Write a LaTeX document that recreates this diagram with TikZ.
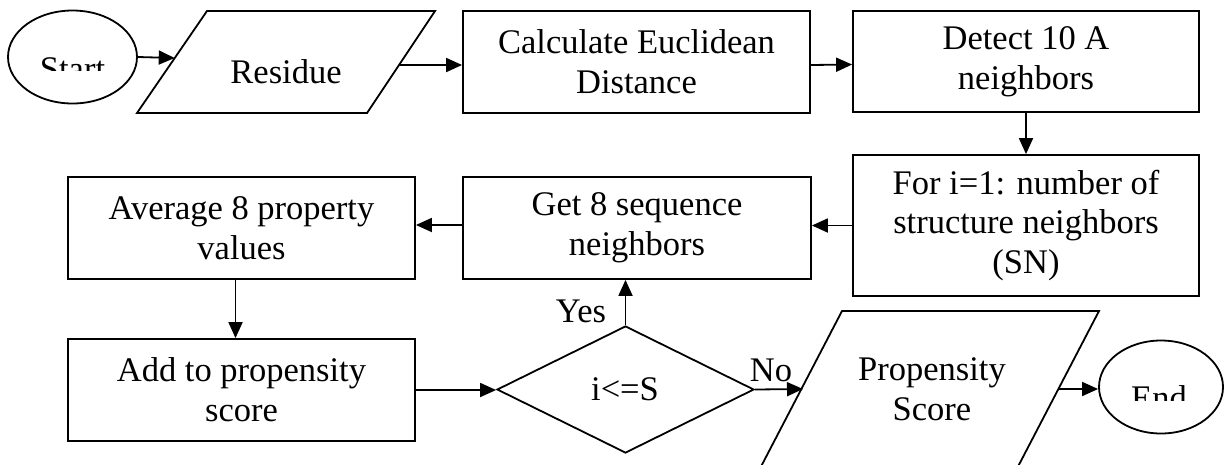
\documentclass[tikz,border=0pt]{standalone}
\usepackage{fontspec}
\setmainfont{Liberation Serif}
\usetikzlibrary{shapes.geometric,arrows.meta}
\begin{document}
\begin{tikzpicture}[x=1pt,y=-1pt,
  every node/.style={font=\fontsize{34.5}{39.7}\selectfont, inner sep=0pt},
  outline/.style={draw, line width=1.8pt},
  stepbox/.style={outline, rectangle, align=center},
  terminal/.style={outline, ellipse},
  decision/.style={outline, diamond},
  io/.style={outline, line join=miter},
  arr/.style={line width=1.8pt, -{Triangle[length=16pt,width=14pt]}}]

\path[use as bounding box, clip] (0,0) rectangle (1228,464);

% terminals
\node[terminal, minimum width=129pt, minimum height=93pt] (start) at (72.5,57) {};
\begin{scope}
  \clip (0,0) rectangle (1228,70.5);
  \node[anchor=base] (starttext) at (72.5,80) {Start};
\end{scope}
\node[terminal, minimum width=124pt, minimum height=93pt] (end) at (1161,387) {};
\begin{scope}
  \clip (1099,0) rectangle (1228,400);
  \node[anchor=base] (endtext) at (1159,409) {End};
\end{scope}

% input / output parallelograms
\draw[io] (137,113) -- (207,11) -- (435,11) -- (367,113) -- cycle;
\node[anchor=base] (residue) at (286,83) {Residue};
\coordinate (resin) at (174.7,58);
\coordinate (resout) at (399,65);

\draw[io] (842,311) -- (1099,311) -- (1011,480) -- (754,480) -- cycle;
\node[align=center] (score) at (932,389) {Propensity\\Score};
\coordinate (scorein) at (803,389);
\coordinate (scoreout) at (1058,389);

% process steps
\node[stepbox, minimum width=347pt, minimum height=102pt] (calc) at (636.5,62) {Calculate Euclidean\\Distance};
\node[stepbox, minimum width=346pt, minimum height=101pt] (detect) at (1026,61.5) {Detect 10 A\\neighbors};
\node[stepbox, minimum width=346pt, minimum height=141pt] (loop) at (1026,225.5) {For i=1: number of\\structure neighbors\\(SN)};
\node[stepbox, minimum width=348pt, minimum height=102pt] (seq) at (637,228) {Get 8 sequence\\neighbors};
\node[stepbox, minimum width=347pt, minimum height=102pt] (avg) at (241.5,228) {Average 8 property\\values};
\node[stepbox, minimum width=347pt, minimum height=102pt] (add) at (241.5,390) {Add to propensity\\score};

% decision
\node[decision, minimum width=257pt, minimum height=127pt] (dec) at (625.5,389.5) {};
\node[anchor=base] (cond) at (625,400) {i<=S};
\node[anchor=base] (yes) at (581,322) {Yes};
\node[anchor=base] (no) at (771,381) {No};

% connectors
\draw[arr] (start.east) -- (resin);
\draw[arr] (resout) -- (resout -| calc.west);
\draw[arr] ([yshift=-3pt]calc.east) -- ([yshift=-3pt]detect.west);
\draw[arr] (detect.south) -- (loop.north);
\draw[arr] (loop.west) -- (loop.west -| seq.east);
\draw[arr] ([yshift=3pt]seq.west) -- ([yshift=3pt]seq.west -| avg.east);
\draw[arr] ([xshift=-6pt]avg.south) -- ([xshift=-6pt]add.north);
\draw[arr] (add.east) -- (add.east -| dec.west);
\draw[arr] (dec.north) -- (dec.north |- seq.south);
\draw[arr] (dec.east) -- (scorein);
\draw[arr] (scoreout) -- (scoreout -| end.west);
\end{tikzpicture}
\end{document}
